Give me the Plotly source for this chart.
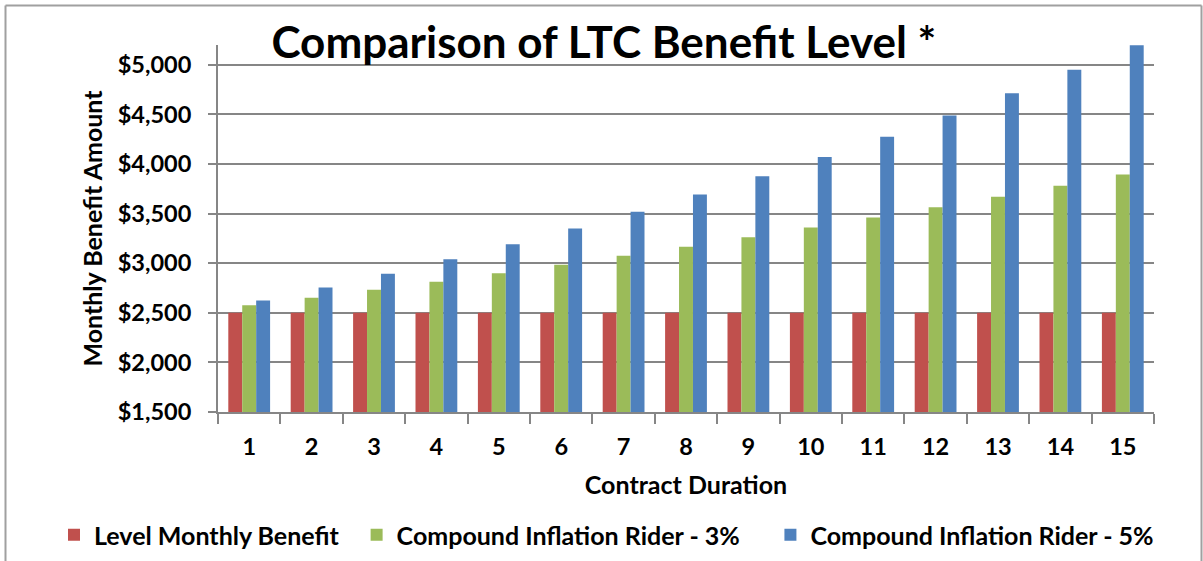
import plotly.graph_objects as go

durations = [str(i) for i in range(1, 16)]
level_monthly = [2500] * 15
rider_3 = [2575, 2652, 2732, 2814, 2898, 2985, 3075, 3167, 3262, 3360, 3461, 3564, 3671, 3781, 3895]
rider_5 = [2625, 2756, 2894, 3039, 3191, 3350, 3518, 3694, 3878, 4072, 4276, 4490, 4714, 4950, 5197]

series_names = ["Level Monthly Benefit", "Compound Inflation Rider - 3%", "Compound Inflation Rider - 5%"]
series_values = [level_monthly, rider_3, rider_5]
series_colors = ["#C0504D", "#9BBB59", "#4F81BD"]
legend_pad = ["\u00a0\u00a0", "\u00a0\u00a0\u00a0\u00a0", ""]

FONT = "Lato"
fig = go.Figure()
for name, vals, color, pad in zip(series_names, series_values, series_colors, legend_pad):
    fig.add_trace(go.Bar(x=durations, y=vals, name="<b>" + name + "</b>" + pad,
                         marker=dict(color=color, line=dict(width=0))))

W, H = 1203, 561
L, R, T, B = 218, 49, 45, 149
pw, ph = W - L - R, H - T - B
fx = lambda px: (px - L) / pw
fy = lambda py: 1 - (py - T) / ph

fig.update_layout(
    width=W, height=H,
    margin=dict(l=L, r=R, t=T, b=B, autoexpand=False),
    paper_bgcolor="white", plot_bgcolor="white",
    barmode="group", bargap=0.33, bargroupgap=0,
    font=dict(family=FONT, color="black"),
    title=dict(text="<b>Comparison of LTC Benefit Level *</b>", x=0.502, xanchor="center",
               y=1 - 43 / H, yanchor="middle", font=dict(size=44, family=FONT)),
    xaxis=dict(type="category", tickson="boundaries", ticks="outside", ticklen=10, tickwidth=2,
               tickcolor="#868686", showline=True, linecolor="#868686", linewidth=2,
               showgrid=False, tickfont=dict(size=23.5, family=FONT), automargin=False,
               ticklabelstandoff=13,
               title=dict(text="<b>Contract Duration</b>", font=dict(size=25, family=FONT), standoff=17)),
    yaxis=dict(range=[1500, 5200], dtick=500, tick0=1500, tickformat="$,.0f", ticks="outside",
               ticklen=8, tickwidth=2, tickcolor="#868686", showline=True, linecolor="#868686",
               linewidth=2, showgrid=True, gridcolor="#868686", gridwidth=2, zeroline=False,
               tickfont=dict(size=23.5, family=FONT), automargin=False, ticklabelstandoff=12,
               title=dict(text="<b>Monthly Benefit Amount</b>", font=dict(size=25, family=FONT), standoff=8)),
    legend=dict(orientation="h", x=fx(54), xanchor="left", y=fy(535), yanchor="middle",
                font=dict(size=25, family=FONT), itemwidth=30, traceorder="normal"),
)
fig.update_xaxes(tickprefix="<b>", ticksuffix="</b>")
fig.update_yaxes(tickprefix="<b>", ticksuffix="</b>")

# chart frame
for x0, y0, x1, y1 in [(5.5, 5.5, 1201.5, 5.5), (5.5, 5.5, 5.5, 570), (1201.5, 5.5, 1201.5, 570)]:
    fig.add_shape(type="line", xref="paper", yref="paper", x0=fx(x0), y0=fy(y0), x1=fx(x1), y1=fy(y1),
                  line=dict(color="#A0A0A0", width=2))

fig.write_html("out.html", config={"displayModeBar": False},
               post_script="document.body.style.margin='0px';")
